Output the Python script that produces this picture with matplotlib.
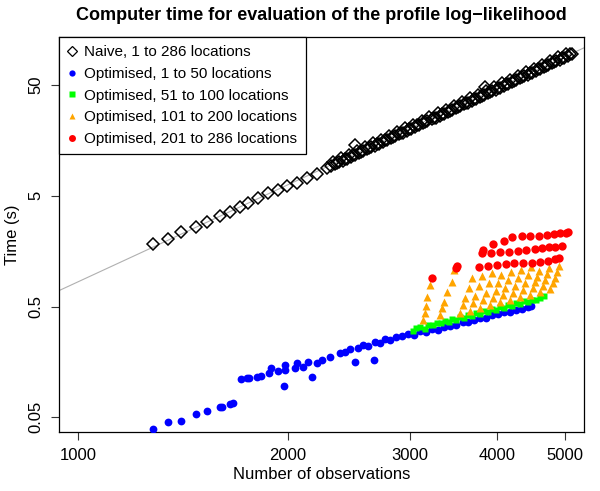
import numpy as np
import matplotlib
matplotlib.use("Agg")
import matplotlib.pyplot as plt
from matplotlib.lines import Line2D
from matplotlib.ticker import NullLocator, FixedLocator, FixedFormatter

plt.rcParams['font.family'] = ['Liberation Sans', 'DejaVu Sans']

# naive evaluation, all locations
naive_n = [1279, 1346, 1404, 1475, 1529, 1598, 1652, 1708, 1754, 1813, 1873, 1937, 1995,
           2062, 2132, 2203, 2278,
           2308, 2339, 2370, 2402, 2434, 2467, 2500, 2533, 2567, 2602, 2637, 2672, 2708,
           2744, 2781, 2818, 2856, 2894, 2933, 2972, 3012, 3052, 3093, 3134, 3176, 3219,
           3262, 3306, 3350, 3395, 3440, 3486, 3533, 3580, 3628, 3677, 3726, 3776, 3827,
           3878, 3930, 3983, 4036, 4090, 4145, 4200, 4256, 4313, 4371, 4430, 4489, 4549,
           4610, 4672, 4735, 4798, 4862, 4927, 4993, 5060, 5128,
           2323, 2355, 2386, 2418, 2450, 2484, 2517, 2550, 2584, 2619, 2655, 2690, 2726,
           2762, 2800, 2837, 2875, 2913, 2953, 2992, 3032, 3072, 3114, 3155, 3197, 3241,
           3284, 3328, 3372, 3418, 3463, 3509, 3557, 3604, 3652, 3702, 3751, 3801, 3853,
           3904, 3956, 4010, 4063, 4117, 4173, 4228, 4285, 4342, 4400, 4460, 4519, 4579,
           4641, 4703, 4767, 4830, 4895, 4960, 5026, 5094,
           2500, 3846]
naive_t = [1.836, 2.024, 2.370, 2.597, 2.899, 3.286, 3.592, 3.959, 4.329, 4.775, 5.298, 5.640, 6.129,
           6.521, 7.236, 7.864, 8.90,
           9.25, 9.62, 10.00, 10.40, 10.81, 11.24, 11.68, 12.15, 12.63, 13.13, 13.65, 14.19, 14.75,
           15.33, 15.94, 16.57, 17.23, 17.91, 18.62, 19.36, 20.13, 20.93, 21.76, 22.62, 23.51, 24.44,
           25.41, 26.42, 27.47, 28.56, 29.69, 30.86, 32.08, 33.35, 34.67, 36.05, 37.48, 38.96, 40.50,
           42.11, 43.78, 45.51, 47.31, 49.19, 51.14, 53.16, 55.27, 57.46, 59.73, 62.10, 64.56, 67.11,
           69.77, 72.53, 75.41, 78.39, 81.50, 84.73, 88.08, 91.57, 95.20,
           10.08, 9.91, 10.90, 10.71, 11.78, 11.58, 12.73, 12.51, 13.77, 13.52, 14.88, 14.62, 16.08,
           15.79, 17.37, 17.07, 18.78, 18.45, 20.30, 19.94, 21.94, 21.56, 23.72, 23.30, 25.63, 25.17,
           27.70, 27.21, 29.94, 29.42, 32.36, 31.79, 34.97, 34.35, 37.79, 37.13, 40.85, 40.13, 44.15,
           43.37, 47.72, 46.88, 51.57, 50.67, 55.74, 54.75, 60.24, 59.18, 65.11, 63.96, 70.37, 69.12,
           76.05, 74.71, 82.20, 80.74, 88.84, 87.27, 96.01, 94.32,
           14.36, 47.9]

# optimised, 1 to 50 locations
blue_n = [1279, 1346, 1404, 1475, 1529, 1598, 1606, 1652, 1670,
          1712, 1746, 1760, 1808, 1829, 1882, 1892, 1935, 1982, 1982, 1975, 2049, 2060,
          2106, 2141, 2166, 2202, 2239, 2301, 2379, 2500, 2663,
          2418, 2459, 2525, 2567, 2611, 2672, 2716, 2761, 2808, 2864, 2921, 2979, 3039,
          3100, 3162, 3225, 3290, 3356, 3424, 3492, 3575, 3635, 3708, 3783, 3859, 3936,
          4015, 4096, 4178, 4262, 4348, 4435, 4479]
blue_t = [0.0395, 0.0451, 0.0467, 0.0533, 0.0571, 0.0617, 0.0623, 0.066, 0.067,
          0.111, 0.113, 0.114, 0.116, 0.119, 0.125, 0.139, 0.131, 0.134, 0.149, 0.0966, 0.139, 0.154,
          0.143, 0.159, 0.116, 0.154, 0.165, 0.177, 0.189, 0.158, 0.165,
          0.195, 0.207, 0.211, 0.225, 0.221, 0.240, 0.235, 0.255, 0.250, 0.266, 0.272, 0.283, 0.278,
          0.301, 0.2945, 0.313, 0.307, 0.327, 0.334, 0.341, 0.363, 0.363, 0.378, 0.394, 0.394, 0.420,
          0.429, 0.447, 0.447, 0.466, 0.476, 0.496, 0.507]

# optimised, 51 to 100 locations
green_n = [3029, 3059, 3100, 3152, 3183, 3236, 3279, 3323, 3367, 3413, 3447, 3492, 3540, 3587,
           3635, 3683, 3732, 3783, 3833, 3884, 3936, 3989, 4042, 4096, 4150, 4206, 4262, 4319,
           4376, 4435, 4494, 4553, 4615, 4676]
green_t = [0.301, 0.320, 0.327, 0.313, 0.341, 0.341, 0.355, 0.355, 0.370, 0.363, 0.386, 0.378,
           0.402, 0.394, 0.420, 0.411, 0.438, 0.429, 0.456, 0.447, 0.476, 0.466, 0.496, 0.486,
           0.517, 0.506, 0.539, 0.528, 0.562, 0.550, 0.573, 0.573, 0.597, 0.622]

# optimised, 101 to 200 locations
orange_n = [3134, 3152, 3162, 3176, 3204,
            3312, 3331, 3356, 3387, 3443, 3470,
            3538, 3571, 3599, 3641, 3683,
            3657, 3691, 3720, 3764, 3808,
            3780, 3816, 3859, 3891, 3936,
            3910, 3944, 3989, 4013, 4050,
            4042, 4077, 4110, 4148, 4186,
            4178, 4214, 4248, 4288, 4328,
            4319, 4356, 4391, 4432, 4473,
            4464, 4497, 4528, 4560, 4592,
            4615, 4649, 4681, 4714, 4747,
            4771, 4806, 4840, 4873, 4907]
orange_t = [0.378, 0.435, 0.506, 0.614, 0.783,
            0.419, 0.483, 0.554, 0.681, 0.839, 1.069,
            0.436, 0.515, 0.595, 0.733, 0.902,
            0.460, 0.543, 0.628, 0.774, 0.951,
            0.485, 0.572, 0.661, 0.815, 1.002,
            0.522, 0.602, 0.697, 0.823, 0.971,
            0.549, 0.634, 0.735, 0.866, 1.022,
            0.578, 0.668, 0.774, 0.912, 1.078,
            0.610, 0.706, 0.817, 0.963, 1.138,
            0.642, 0.728, 0.825, 0.934, 1.057,
            0.677, 0.767, 0.868, 0.983, 1.114,
            0.713, 0.808, 0.914, 1.036, 1.174]

# optimised, 201 to 286 locations
red_n = [3229, 3493, 3501,
         3762, 3875, 3998, 4123, 4234, 4358, 4489, 4615, 4728, 4851, 4903,
         3804, 3812, 3923, 4042, 4154, 4280, 4405, 4528, 4646, 4755, 4851, 4964,
         3945, 4086, 4206, 4343, 4464, 4589, 4719, 4824, 4931, 5030, 5064]
red_t = [0.899, 1.107, 1.162,
         1.145, 1.162, 1.186, 1.204, 1.228, 1.228, 1.244, 1.270, 1.301, 1.339, 1.367,
         1.531, 1.62, 1.531, 1.564, 1.564, 1.596, 1.62, 1.644, 1.679, 1.715, 1.735, 1.760,
         1.840, 1.971, 2.116, 2.173, 2.173, 2.187, 2.219, 2.252, 2.298, 2.328, 2.362]

labels = ['Naive, 1 to 286 locations', 'Optimised, 1 to 50 locations',
          'Optimised, 51 to 100 locations', 'Optimised, 101 to 200 locations',
          'Optimised, 201 to 286 locations']
xticks = [1000, 2000, 3000, 4000, 5000]
yticks = [0.05, 0.5, 5, 50]
xrange_ = (1000, 5000)
yrange_ = (0.05, 100)


def r_lim(lo, hi):
    # R pads log axes by 4% of the (log) range on each side
    a, b = np.log10(lo), np.log10(hi)
    d = 0.04 * (b - a)
    return 10 ** (a - d), 10 ** (b + d)


fig = plt.figure(figsize=(6, 4.91), dpi=100)
ax = fig.add_axes([59 / 600, 59 / 491, 525 / 600, 395 / 491])
ax.set_xscale('log')
ax.set_yscale('log')
ax.set_xlim(*r_lim(*xrange_))
ax.set_ylim(*r_lim(*yrange_))

# least squares line through the naive timings (log-log)
b, a = np.polyfit(np.log10(naive_n), np.log10(naive_t), 1)
xs = np.array(ax.get_xlim())
ax.plot(xs, 10 ** (a + b * np.log10(xs)), color='#b0b0b0', lw=0.8, zorder=1)

ax.plot(naive_n, naive_t, 'D', ms=5.9, mfc='none', mec='black', mew=1.1, zorder=2)
ax.plot(blue_n, blue_t, 'o', ms=5.6, color='#0000ff', mec='none', zorder=3)
ax.plot(green_n, green_t, 's', ms=4.8, color='#00ff00', mec='none', zorder=4)
ax.plot(orange_n, orange_t, '^', ms=5.8, color='#ffa500', mec='none', zorder=5)
ax.plot(red_n, red_t, 'o', ms=6, color='#ff0000', mec='none', zorder=6)

ax.xaxis.set_major_locator(FixedLocator(xticks))
ax.xaxis.set_major_formatter(FixedFormatter([str(v) for v in xticks]))
ax.xaxis.set_minor_locator(NullLocator())
ax.yaxis.set_major_locator(FixedLocator(yticks))
ax.yaxis.set_major_formatter(FixedFormatter(['0.05', '0.5', '5', '50']))
ax.yaxis.set_minor_locator(NullLocator())
ax.tick_params(direction='out', length=5.5, width=0.8, labelsize=12, color='#333333')
ax.tick_params(axis='x', pad=6)
ax.tick_params(axis='y', pad=6)
for lab in ax.get_yticklabels():
    lab.set_rotation(90)
    lab.set_va('center')
for sp in ax.spines.values():
    sp.set_linewidth(0.9)

ax.set_xlabel('Number of observations', fontsize=12, labelpad=3)
ax.set_ylabel('Time (s)', fontsize=12, labelpad=6)
fig.text(321.5 / 600, 1 - 15 / 491, 'Computer time for evaluation of the profile log\u2212likelihood',
         ha='center', va='center', fontsize=13, fontweight='bold')

handles = [
    Line2D([], [], ls='none', marker='D', ms=5.2, mfc='none', mec='black', mew=0.9),
    Line2D([], [], ls='none', marker='o', ms=4.5, color='#0000ff', mec='none'),
    Line2D([], [], ls='none', marker='s', ms=4, color='#00ff00', mec='none'),
    Line2D([], [], ls='none', marker='^', ms=4.8, color='#ffa500', mec='none'),
    Line2D([], [], ls='none', marker='o', ms=5, color='#ff0000', mec='none'),
]
leg = ax.legend(handles, labels, loc='upper left', borderaxespad=0, fancybox=False,
                framealpha=1, edgecolor='black', fontsize=11, handlelength=0.6,
                handletextpad=0.5, labelspacing=0.5, borderpad=0.55)
leg.get_frame().set_linewidth(0.9)

fig.savefig('out.png', dpi=100)
